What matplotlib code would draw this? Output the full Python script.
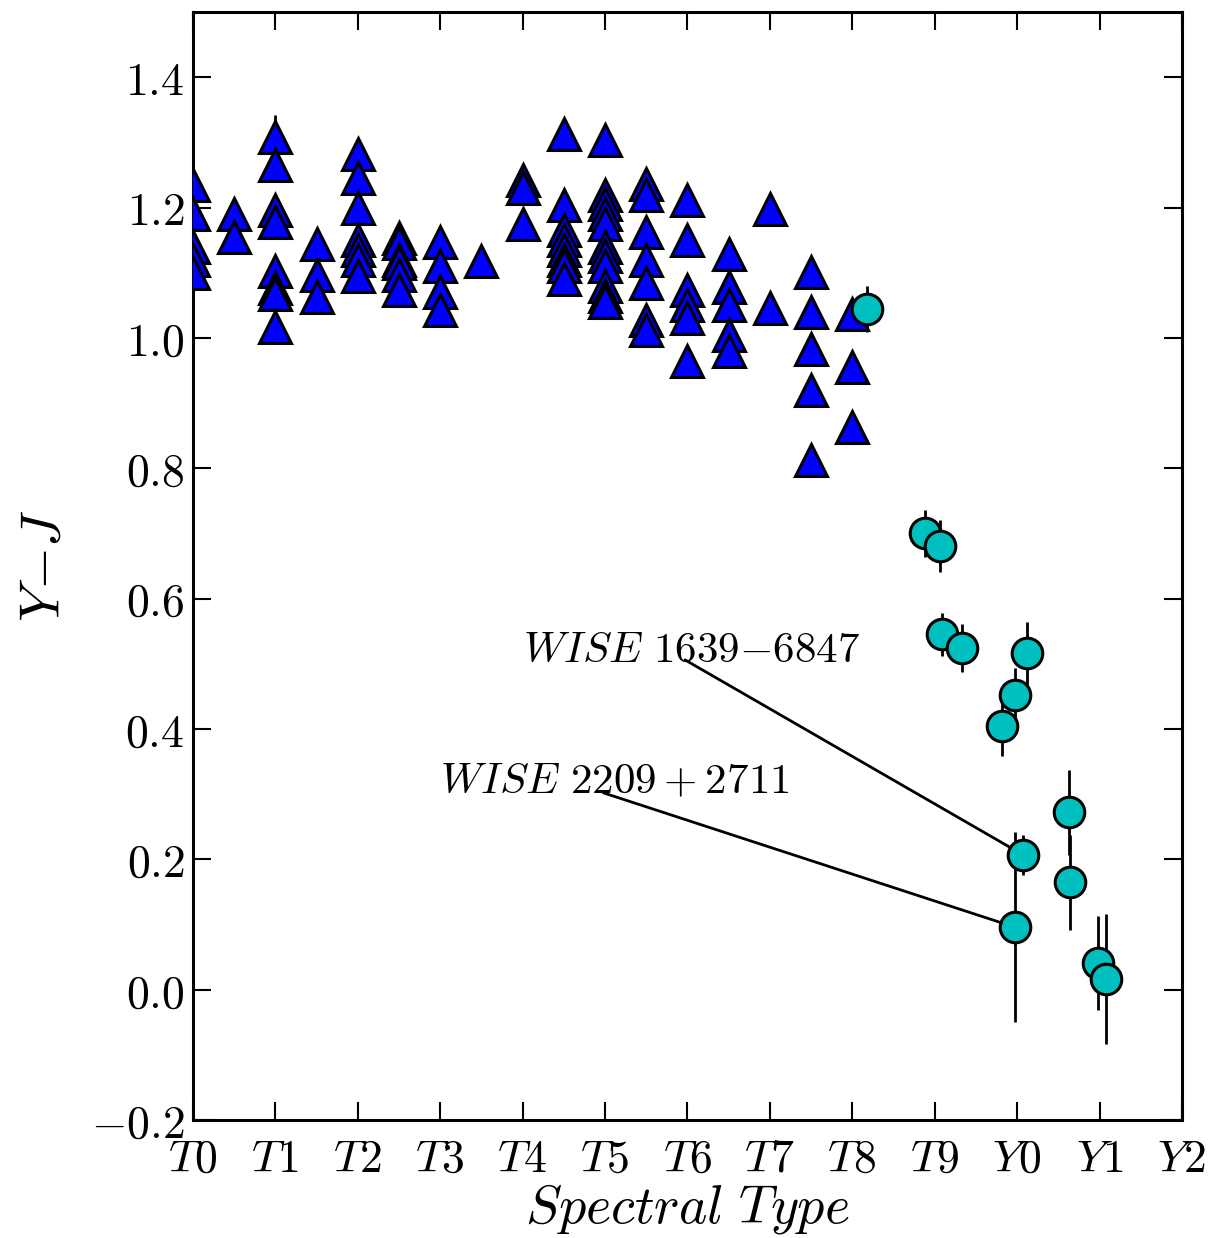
import matplotlib
matplotlib.use("Agg")
import matplotlib.pyplot as plt

plt.rcParams["mathtext.fontset"] = "cm"
plt.rcParams["font.family"] = ["DejaVu Serif"]

# Late-T dwarfs (blue triangles): spectral type index (T0 = 0) and Y-J colour
t_spt = ([0.0] * 5 + [0.5] * 2 + [1.0] * 8 + [1.5] * 3 + [2.0] * 7 + [2.5] * 6
         + [3.0] * 4 + [3.5] + [4.0] * 3 + [4.5] * 8 + [5.0] * 11 + [5.5] * 7
         + [6.0] * 6 + [6.5] * 5 + [7.0] * 2 + [7.5] * 5 + [8.0] * 3)
t_yj = [1.235, 1.19, 1.14, 1.12, 1.10,
        1.19, 1.155,
        1.308, 1.265, 1.196, 1.178, 1.103, 1.077, 1.067, 1.017,
        1.144, 1.097, 1.063,
        1.282, 1.245, 1.20, 1.15, 1.135, 1.12, 1.095,
        1.153, 1.146, 1.12, 1.115, 1.097, 1.073,
        1.147, 1.11, 1.07, 1.043,
        1.118,
        1.243, 1.23, 1.175,
        1.313, 1.204, 1.165, 1.15, 1.135, 1.12, 1.11, 1.09,
        1.304, 1.22, 1.205, 1.19, 1.175, 1.14, 1.125, 1.11, 1.08, 1.065, 1.055,
        1.236, 1.22, 1.162, 1.12, 1.084, 1.027, 1.012,
        1.211, 1.15, 1.074, 1.051, 1.03, 0.965,
        1.128, 1.078, 1.05, 1.005, 0.98,
        1.197, 1.046,
        1.101, 1.04, 0.983, 0.92, 0.813,
        1.037, 0.955, 0.863]
t_err = [0.0] * len(t_yj)
t_err[7] = 0.034

# WISE T/Y dwarfs (cyan circles) with Y-J uncertainties
w_spt = [8.18, 8.88, 9.07, 9.09, 9.33, 10.12, 9.98, 9.82, 10.07, 9.97,
         10.63, 10.64, 10.98, 11.08]
w_yj = [1.044, 0.70, 0.681, 0.545, 0.524, 0.516, 0.452, 0.404, 0.207, 0.096,
        0.272, 0.165, 0.041, 0.016]
w_err = [0.035, 0.036, 0.040, 0.033, 0.037, 0.048, 0.041, 0.046, 0.031, 0.146,
         0.065, 0.073, 0.072, 0.100]

# Labelled objects: label, index into the WISE arrays, text anchor, leader start
labels = [r"$WISE\ 1639{-}6847$", r"$WISE\ 2209+2711$"]
label_idx = [8, 9]
label_pos = [(4.0, 0.503), (3.0, 0.302)]
leader_start = [(5.97, 0.506), (4.98, 0.302)]

tick_names = ["T0", "T1", "T2", "T3", "T4", "T5", "T6", "T7", "T8", "T9",
              "Y0", "Y1", "Y2"]
y_ticks = [-0.2, 0.0, 0.2, 0.4, 0.6, 0.8, 1.0, 1.2, 1.4]

fig = plt.figure(figsize=(12.12, 12.38), dpi=100)
ax = fig.add_axes([0.1592, 0.0953, 0.8160, 0.8950])

ax.errorbar(t_spt, t_yj, yerr=t_err, fmt="none", ecolor="k", elinewidth=2,
            capsize=0, zorder=2)
ax.plot(t_spt, t_yj, ls="none", marker="^", ms=23, mfc="#0000ff", mec="k",
        mew=2.2, zorder=3)

ax.errorbar(w_spt, w_yj, yerr=w_err, fmt="none", ecolor="k", elinewidth=2,
            capsize=0, zorder=4)
ax.plot(w_spt, w_yj, ls="none", marker="o", ms=22, mfc="c", mec="k",
        mew=2.2, zorder=5)

for text, i, pos, start in zip(labels, label_idx, label_pos, leader_start):
    ax.text(pos[0], pos[1], text, fontsize=31, ha="left", va="baseline",
            zorder=6)
    ax.annotate("", xy=(w_spt[i], w_yj[i]), xytext=start, textcoords="data",
                arrowprops=dict(arrowstyle="-", color="k", lw=2,
                                shrinkA=0, shrinkB=10, patchA=None),
                zorder=6)

ax.set_xlim(0, 12)
ax.set_ylim(-0.2, 1.5)
ax.set_xticks(range(len(tick_names)))
ax.set_xticklabels(["$" + n + "$" for n in tick_names])
ax.set_yticks(y_ticks)
ax.set_yticklabels(["$%.1f$" % v for v in y_ticks])

ax.tick_params(axis="both", which="major", direction="in", length=13,
               width=1.5, top=True, right=True, labelsize=33)
ax.tick_params(axis="x", pad=12)
ax.tick_params(axis="y", pad=6)
for s in ax.spines.values():
    s.set_linewidth(2.2)

ax.set_xlabel(r"$Spectral\ Type$", fontsize=39, labelpad=0)
ax.set_ylabel(r"$Y{-}J$", fontsize=40, labelpad=14)

fig.savefig("out.png", dpi=100)
